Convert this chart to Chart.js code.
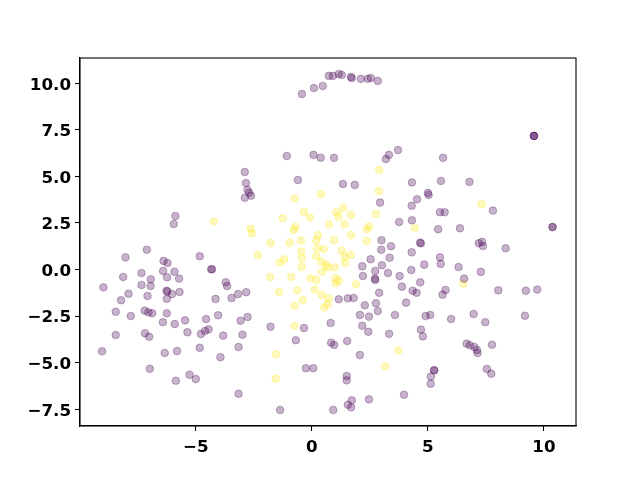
<!DOCTYPE html>
<html><head><meta charset="utf-8">
<script src="https://cdn.jsdelivr.net/npm/chart.js@4/dist/chart.umd.min.js"></script>
<style>html,body{margin:0;padding:0;background:#fff}</style>
</head><body>
<canvas id="c" width="640" height="480" style="display:block;width:640px;height:480px"></canvas>
<script>
// class 0 (dark purple) points
const purpleX = [-0.43,0.09,0.47,0.73,0.91,1.16,1.29,1.68,1.72,2.11,2.41,2.54,2.84,
-1.08,0.07,0.38,0.95,3.19,3.32,3.71,5.65,-2.89,-2.84,-0.60,1.34,1.85,4.31,5.56,6.79,
9.57,9.57,9.57,-2.77,-2.70,-2.89,-2.62,2.94,4.53,5.00,5.03,4.30,5.52,5.72,3.76,4.31,5.44,
3.00,3.41,2.99,4.66,4.70,4.30,5.52,5.55,2.53,3.35,2.17,3.02,2.73,3.28,4.84,4.28,2.20,2.72,
2.73,3.78,4.67,3.88,4.34,4.51,5.76,5.63,2.90,1.16,1.55,1.80,2.28,2.76,4.06,7.80,6.38,10.37,
10.37,7.19,7.33,7.37,8.35,6.32,7.28,6.56,8.03,9.22,9.71,6.00,6.97,7.47,9.18,6.67,6.81,7.00,
7.11,7.14,7.76,7.54,7.73,2.07,2.46,2.84,3.58,4.90,5.10,0.81,2.17,2.43,3.33,4.70,4.78,0.83,
0.96,1.52,2.07,1.50,1.50,5.27,5.27,5.13,5.12,2.46,3.97,1.72,1.55,1.69,0.92,-4.56,-4.04,-3.07,
-2.77,-4.60,-4.45,-4.78,-3.82,-2.99,-4.83,-3.16,-3.94,-1.78,-0.34,-0.69,-0.26,0.06,-3.16,-1.37,
-4.15,-3.46,-3.18,-2.83,-3.71,-3.65,-4.34,-4.30,-4.83,-5.88,-5.95,-7.11,-8.03,-6.39,-6.22,-6.41,
-5.92,-7.34,-8.13,-6.24,-5.72,-6.94,-7.34,-6.95,-8.98,-6.26,-6.23,-5.70,-6.03,-7.90,-7.08,-8.22,
-6.25,-8.45,-7.80,-7.20,-7.04,-6.88,-6.25,-6.42,-5.91,-5.46,-5.36,-8.45,-7.19,-7.01,-9.04,-6.34,
-5.81,-6.98,-5.86,-5.27,-5.00];
const purpleY = [9.42,9.74,9.85,10.39,10.39,10.49,10.44,10.33,10.28,10.23,10.23,10.28,10.12,
6.09,6.15,6.00,5.99,5.93,6.15,6.41,5.99,5.23,4.64,4.80,4.59,4.54,4.67,4.75,4.70,
7.17,7.17,7.17,4.27,4.12,3.85,3.96,3.59,3.77,4.11,4.00,3.42,3.07,3.07,2.55,2.64,2.16,
1.57,1.25,1.06,1.44,1.40,0.92,0.65,0.30,0.55,0.63,0.17,0.23,-0.08,-0.19,0.26,-0.03,-0.35,-0.49,
-0.56,-0.35,-0.69,-0.92,-1.14,-1.25,-1.10,-1.35,-1.25,-1.60,-1.55,-1.53,-1.92,-1.81,-1.78,3.16,2.21,2.28,
2.28,1.41,1.48,1.26,1.14,0.13,-0.13,-0.49,-1.12,-1.14,-1.08,-2.66,-2.39,-2.83,-2.48,-3.98,-4.07,-4.16,
-4.32,-4.48,-4.04,-5.34,-5.59,-2.44,-2.53,-2.23,-2.44,-2.50,-2.44,-2.87,-3.02,-3.34,-3.45,-3.23,-3.59,-3.93,
-4.05,-3.84,-4.59,-5.72,-5.95,-5.41,-5.41,-5.75,-6.13,-6.97,-6.72,-7.02,-7.26,-7.40,-7.54,-2.66,-2.46,-2.75,
-2.55,-3.30,-3.21,-3.46,-3.55,-3.50,-4.20,-4.16,-4.71,-3.07,-3.14,-3.80,-5.30,-5.30,-6.67,-7.54,
-1.58,-1.53,-1.32,-1.22,-0.69,-0.89,0.01,0.01,0.71,2.87,2.44,1.06,0.65,0.46,0.35,-0.08,
-0.12,-0.19,-0.40,-0.42,-0.49,-0.53,-0.83,-0.89,-0.96,-1.14,-1.18,-1.21,-1.32,-1.30,-1.42,-1.65,
-1.57,-2.27,-2.50,-2.21,-2.30,-2.35,-2.35,-2.83,-2.93,-2.73,-3.37,-3.52,-3.42,-3.61,-4.39,-4.48,
-4.38,-5.33,-5.97,-5.65,-5.88];
// class 1 (yellow) points
const yellowX = [2.90,-4.22,-0.75,0.40,-1.26,-0.34,-0.09,-0.70,-0.79,-2.64,-2.59,-1.78,-0.96,-0.47,
0.26,0.19,0.74,-2.33,-0.46,-0.43,0.23,0.51,0.19,-1.19,-1.38,-0.44,0.41,0.61,0.68,-1.80,-0.89,-0.06,
0.19,0.12,-0.62,-1.41,0.42,-0.39,-0.75,0.72,2.89,1.05,1.35,1.69,1.15,1.41,2.76,2.47,2.36,4.44,
1.69,0.95,2.36,1.28,1.67,1.41,1.44,0.99,0.44,1.02,1.16,1.02,1.90,0.68,0.53,-0.75,-1.55,-1.56,
3.72,3.16,7.31,6.52];
const yellowY = [5.34,2.57,3.82,4.04,2.75,3.10,2.78,2.28,2.12,2.19,1.94,1.42,1.44,1.55,
1.84,1.57,2.43,0.76,0.96,0.60,1.14,1.10,0.71,0.55,0.37,0.15,0.42,0.26,0.12,-0.40,-0.40,-0.46,
-0.56,-1.08,-1.12,-1.21,-1.37,-1.64,-1.95,-1.55,4.20,3.07,3.30,2.93,2.83,2.43,2.98,2.30,2.16,2.24,
1.85,1.57,1.53,1.01,0.78,0.69,0.35,0.12,-0.12,-0.46,-0.60,-0.74,-0.79,-1.86,-2.04,-3.02,-4.55,-5.86,
-4.34,-5.20,3.50,-0.76];
const xTicks = [-5, 0, 5, 10];
const yTicks = [-7.5, -5, -2.5, 0, 2.5, 5, 7.5, 10];

const toPts = (xs, ys) => xs.map((x, i) => ({x: x, y: ys[i]}));
const fmt = (v, d) => { const s = Math.abs(v).toFixed(d); return v < 0 ? '\u2212' + s : s; };
const fontX = {family: 'DejaVu Sans', size: 16.7, weight: 'bold'};
const fontY = {family: 'DejaVu Sans', size: 16.7, weight: 'bold', lineHeight: 0.25};

const frame = {
  id: 'frame',
  afterDraw(chart) {
    const a = chart.chartArea, ctx = chart.ctx;
    ctx.save();
    ctx.strokeStyle = '#000';
    ctx.lineWidth = 1.1;
    ctx.strokeRect(a.left, a.top, a.right - a.left, a.bottom - a.top);
    ctx.restore();
  }
};

new Chart(document.getElementById('c'), {
  type: 'scatter',
  data: {
    datasets: [
      {data: toPts(purpleX, purpleY), backgroundColor: 'rgba(68,1,84,0.3)', borderColor: 'rgba(68,1,84,0.3)', borderWidth: 1, pointRadius: 3.8},
      {data: toPts(yellowX, yellowY), backgroundColor: 'rgba(253,231,37,0.3)', borderColor: 'rgba(253,231,37,0.3)', borderWidth: 1, pointRadius: 3.8}
    ]
  },
  options: {
    responsive: false, animation: false,
    layout: {padding: {top: 58, right: 64, left: 0, bottom: 0}},
    plugins: {legend: {display: false}, tooltip: {enabled: false}},
    scales: {
      x: {
        type: 'linear', min: -9.99, max: 11.38,
        afterBuildTicks: s => { s.ticks = xTicks.map(v => ({value: v})); },
        afterFit: s => { s.height = 54; },
        ticks: {callback: v => fmt(v, 0), font: fontX, color: '#000', padding: 7, maxRotation: 0},
        grid: {drawOnChartArea: false, drawTicks: true, tickLength: 5, color: '#000', tickWidth: 1.1},
        border: {display: true, color: '#000', width: 1.1}
      },
      y: {
        type: 'linear', min: -8.40, max: 11.35,
        afterBuildTicks: s => { s.ticks = yTicks.map(v => ({value: v})); },
        afterFit: s => { s.width = 80; },
        ticks: {callback: v => ['', fmt(v, 1)], font: fontY, color: '#000', padding: 4},
        grid: {drawOnChartArea: false, drawTicks: true, tickLength: 5, color: '#000', tickWidth: 1.1},
        border: {display: true, color: '#000', width: 1.1}
      }
    }
  },
  plugins: [frame]
});
</script>
</body></html>
